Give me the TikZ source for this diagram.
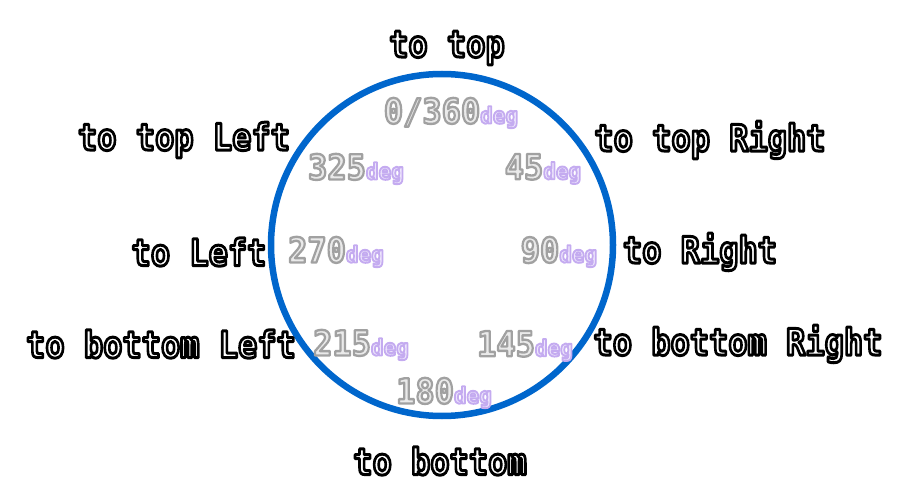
\documentclass[tikz,border=0pt]{standalone}
\usepackage{graphicx}
\usepackage{fontspec}
\setmonofont{DejaVu Sans Mono}
\definecolor{ringblue}{RGB}{0,102,204}
\newcommand\bigpix{\ttfamily\bfseries\fontsize{32}{34}\selectfont}
\newcommand\smallpix{\ttfamily\bfseries\fontsize{21}{22}\selectfont}
% outlined text: fill colour via \color, stroke via raw PDF operators
\newcommand\outl[3]{\special{pdf:literal direct 2 Tr #1 w 1 j #2 RG}#3\special{pdf:literal direct 0 Tr}}
\newcommand\lbl[1]{\scalebox{1}[1.15]{\bigpix\color{white}\outl{2.6}{0 0 0}{#1}}}
\newcommand\dg[1]{\scalebox{1}[1.08]{{\bigpix\color[RGB]{234,234,234}\outl{2.2}{0.63 0.63 0.63}{#1}}{\smallpix\color[RGB]{238,230,252}\outl{1.8}{0.77 0.67 0.94}{deg}}}}
\tikzset{
  ring/.style={circle, draw=ringblue, line width=6.5pt, minimum size=342pt, inner sep=0pt},
  lab/.style={inner sep=0pt, anchor=center},
}
\begin{document}
\begin{tikzpicture}[x=1pt,y=-1pt]
\useasboundingbox (0,0) rectangle (900,500);
\node[ring] (c) at (442,245) {};
% direction labels
\node[lab] (top) at (447,48) {\lbl{to top}};
\node[lab] (tl) at (184,140) {\lbl{to top Left}};
\node[lab] (tr) at (710,140) {\lbl{to top Right}};
\node[lab] (l) at (199,252) {\lbl{to Left}};
\node[lab] (r) at (700,252) {\lbl{to Right}};
\node[lab] (bl) at (161,344) {\lbl{to bottom Left}};
\node[lab] (br) at (738,344) {\lbl{to bottom Right}};
\node[lab] (b) at (440,461) {\lbl{to bottom}};
% degree labels
\node[lab] (d0) at (451,113) {\dg{0/360}};
\node[lab] (d325) at (356,169) {\dg{325}};
\node[lab] (d45) at (543,169) {\dg{45}};
\node[lab] (d270) at (336,252) {\dg{270}};
\node[lab] (d90) at (559,252) {\dg{90}};
\node[lab] (d215) at (361,345) {\dg{215}};
\node[lab] (d145) at (525,346) {\dg{145}};
\node[lab] (d180) at (444,393) {\dg{180}};
\end{tikzpicture}
\end{document}
